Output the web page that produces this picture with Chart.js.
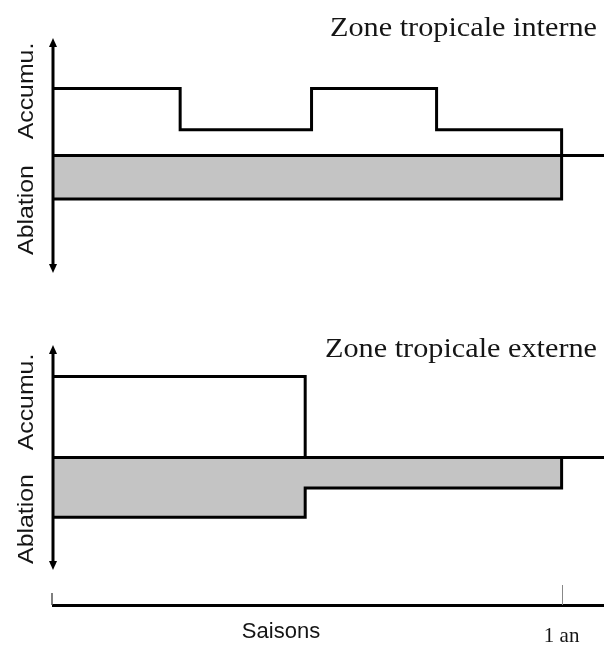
<!DOCTYPE html>
<html><head><meta charset="utf-8">
<script src="https://cdn.jsdelivr.net/npm/chart.js@4.4.1/dist/chart.umd.min.js"></script>
<style>
html,body{margin:0;padding:0;background:#fff;}
#wrap{position:relative;width:604px;height:646px;overflow:hidden;background:#fff;}
canvas{position:absolute;left:0;}
#c1{top:0;} #c2{top:300px;}
</style></head><body>
<div id="wrap"><canvas id="c1" width="604" height="300"></canvas><canvas id="c2" width="604" height="346"></canvas></div>
<script>
// ---- Data (arbitrary units, months along x) ----
const panelTitles = ['Zone tropicale interne', 'Zone tropicale externe'];
const labelAccum = 'Accumu.';
const labelAblation = 'Ablation';
const interneSeasonEdges = [0, 3, 6.1, 9.05, 12];
const interneAccumulation = [5.7, 2.2, 5.7, 2.2];
const interneAblation = [3.7, 3.7, 3.7, 3.7];
const externeSeasonEdges = [0, 5.95, 12];
const externeAccumulation = [7.2, 0];
const externeAblation = [5.3, 2.7];
const xTickValues = [12];
const xTickLabels = ['1 an'];
const xAxisTitle = 'Saisons';
const xMax = 13;
const arrowRange = 10;

function stepPoints(edges, values, sign) {
  const pts = values.map((v, i) => ({x: edges[i], y: sign * v}));
  pts.push({x: edges[edges.length - 1], y: 0});
  return pts;
}

function drawText(ctx, text, x, y, font, align, rotate, stretch) {
  ctx.save();
  ctx.translate(x, y);
  if (rotate) ctx.rotate(-Math.PI / 2);
  ctx.scale(stretch || 1, 1);
  ctx.font = font;
  ctx.fillStyle = '#151515';
  ctx.textAlign = align;
  ctx.textBaseline = 'alphabetic';
  ctx.fillText(text, 0, 0);
  ctx.restore();
}

const decor = {
  id: 'decor',
  afterDatasetsDraw(chart, args, o) {
    const ctx = chart.ctx;
    const xs = chart.scales.x, ys = chart.scales.y;
    const ca = chart.chartArea;
    const x0 = xs.getPixelForValue(0);
    const yT = ys.getPixelForValue(arrowRange);
    const yB = ys.getPixelForValue(-arrowRange);
    const y0 = ys.getPixelForValue(0);
    ctx.save();
    ctx.strokeStyle = '#000';
    ctx.fillStyle = '#000';
    // baseline
    ctx.lineWidth = 3;
    ctx.beginPath();
    ctx.moveTo(x0, y0);
    ctx.lineTo(xs.getPixelForValue(xMax), y0);
    ctx.stroke();
    // vertical double arrow
    ctx.lineWidth = 3;
    ctx.beginPath();
    ctx.moveTo(x0, yT + 6);
    ctx.lineTo(x0, yB - 6);
    ctx.stroke();
    ctx.beginPath();
    ctx.moveTo(x0, yT); ctx.lineTo(x0 - 4, yT + 9); ctx.lineTo(x0 + 4, yT + 9); ctx.closePath();
    ctx.fill();
    ctx.beginPath();
    ctx.moveTo(x0, yB); ctx.lineTo(x0 - 4, yB - 9); ctx.lineTo(x0 + 4, yB - 9); ctx.closePath();
    ctx.fill();
    if (o.seasonAxis) {
      ctx.strokeStyle = '#555';
      ctx.lineWidth = 1.5;
      ctx.beginPath();
      ctx.moveTo(ca.left - 1, ca.bottom);
      ctx.lineTo(ca.left - 1, ca.bottom - 12);
      ctx.stroke();
      ctx.strokeStyle = '#888';
      ctx.lineWidth = 1;
      xTickValues.forEach(v => {
        const px = Math.round(xs.getPixelForValue(v)) + 0.5;
        ctx.beginPath();
        ctx.moveTo(px, ca.bottom);
        ctx.lineTo(px, ca.bottom - 20);
        ctx.stroke();
      });
      drawText(ctx, xAxisTitle, o.seasonX, o.seasonY, '22px "Liberation Sans"', 'center', false, 1);
    }
    ctx.restore();
    // texts
    drawText(ctx, o.title, 597, o.titleY, '27px "Liberation Serif"', 'right', false, 1.12);
    drawText(ctx, labelAccum, 33, o.accumY, '22px "Liberation Sans"', 'center', true, 1.13);
    drawText(ctx, labelAblation, 33, o.ablY, '22px "Liberation Sans"', 'center', true, 1.13);
  }
};

function lineDs(data, fill) {
  return {
    data, stepped: true, borderColor: '#000', borderWidth: 3,
    pointRadius: 0, fill: fill ? 'origin' : false,
    backgroundColor: '#c4c4c4', borderJoinStyle: 'miter', borderCapStyle: 'square'
  };
}

Chart.register(decor);

new Chart(document.getElementById('c1'), {
  type: 'line',
  data: {datasets: [
    lineDs(stepPoints(interneSeasonEdges, interneAccumulation, 1), false),
    lineDs(stepPoints(interneSeasonEdges, interneAblation, -1), true)
  ]},
  options: {
    responsive: false, animation: false, devicePixelRatio: 1,
    layout: {padding: {left: 53, top: 38, right: 0, bottom: 27}},
    scales: {
      x: {type: 'linear', min: 0, max: xMax, display: false},
      y: {type: 'linear', min: -arrowRange, max: arrowRange, display: false}
    },
    plugins: {
      legend: {display: false}, tooltip: {enabled: false},
      decor: {title: panelTitles[0], titleY: 36, accumY: 91, ablY: 210, seasonAxis: false}
    }
  }
});

new Chart(document.getElementById('c2'), {
  type: 'line',
  data: {datasets: [
    lineDs(stepPoints(externeSeasonEdges, externeAccumulation, 1), false),
    lineDs(stepPoints(externeSeasonEdges, externeAblation, -1), true)
  ]},
  options: {
    responsive: false, animation: false, devicePixelRatio: 1,
    layout: {padding: {left: 53, top: 45, right: 0, bottom: 0}},
    scales: {
      x: {
        type: 'linear', min: 0, max: xMax, display: true, position: 'bottom',
        grid: {display: false, drawTicks: false},
        border: {display: true, color: '#000', width: 3},
        afterBuildTicks: a => { a.ticks = xTickValues.map(v => ({value: v})); },
        afterFit: a => { a.height = 41; },
        ticks: {
          autoSkip: false, maxRotation: 0, padding: 19, color: '#151515',
          font: {family: 'Liberation Serif', size: 21},
          callback: v => xTickLabels[xTickValues.indexOf(v)]
        }
      },
      y: {type: 'linear', min: -13.11, max: arrowRange, display: false}
    },
    plugins: {
      legend: {display: false}, tooltip: {enabled: false},
      decor: {title: panelTitles[1], titleY: 57, accumY: 102, ablY: 219, seasonAxis: true, seasonX: 281, seasonY: 338}
    }
  }
});
</script>
</body></html>
